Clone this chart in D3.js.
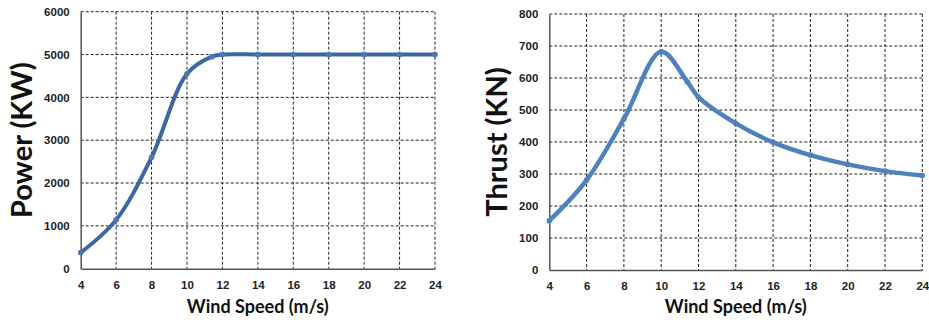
<!DOCTYPE html>
<html>
<head>
<meta charset="utf-8">
<script src="https://cdn.jsdelivr.net/npm/d3@7"></script>
<style>
  body { margin: 0; background: #fff; }
  svg { display: block; font-family: Lato, "Open Sans", sans-serif; }
  .tick text { font-weight: bold; font-size: 11.5px; fill: #222; }
  .grid line { stroke: #222; stroke-dasharray: 3,2; stroke-width: 1; }
  .title { font-weight: bold; fill: #111; }
</style>
</head>
<body>
<div id="chart"></div>
<script>
// wind speeds (m/s) at the data markers
var windSpeed = [4, 6, 8, 10, 11.4, 12, 14, 16, 18, 20, 22, 24];
var power = [375, 1140, 2600, 4550, 4950, 5000, 5000, 5000, 5000, 5000, 5000, 5000];
var thrust = [154, 281, 472, 682, 588, 540, 458, 399, 359, 330, 309, 295];
var xTicks = [4, 6, 8, 10, 12, 14, 16, 18, 20, 22, 24];
var powerTicks = [0, 1000, 2000, 3000, 4000, 5000, 6000];
var thrustTicks = [0, 100, 200, 300, 400, 500, 600, 700, 800];

var svg = d3.select("#chart").append("svg")
    .attr("width", 929)
    .attr("height", 323);

function drawChart(opt) {
    var g = svg.append("g");

    var x = d3.scaleLinear().domain([4, 24]).range([opt.left, opt.right]);
    var y = d3.scaleLinear().domain([0, opt.yMax]).range([opt.bottom, opt.top]);

    // dashed grid
    var grid = g.append("g").attr("class", "grid");
    grid.selectAll(".gx")
        .data(xTicks.slice(1))
        .enter().append("line")
        .attr("x1", function(d){ return x(d); })
        .attr("x2", function(d){ return x(d); })
        .attr("y1", opt.top)
        .attr("y2", opt.bottom);
    grid.selectAll(".gy")
        .data(opt.yTicks.slice(1))
        .enter().append("line")
        .attr("x1", opt.left)
        .attr("x2", opt.right)
        .attr("y1", function(d){ return y(d); })
        .attr("y2", function(d){ return y(d); });

    var xAxis = d3.axisBottom(x).tickValues(xTicks).tickSize(0).tickPadding(12).tickFormat(d3.format("d"));
    var yAxis = d3.axisLeft(y).tickValues(opt.yTicks).tickSize(0).tickPadding(11).tickFormat(d3.format("d"));

    g.append("g")
        .attr("transform", "translate(0," + opt.bottom + ")")
        .call(xAxis)
        .call(function(s){ s.select(".domain").attr("stroke", "#555").attr("stroke-width", 1.5); });

    g.append("g")
        .attr("transform", "translate(" + opt.left + ",0)")
        .call(yAxis)
        .call(function(s){ s.select(".domain").attr("stroke", "#555").attr("stroke-width", 1.5); });

    var pts = windSpeed.map(function(w, i){ return [w, opt.values[i]]; });

    var line = d3.line()
        .x(function(d){ return x(d[0]); })
        .y(function(d){ return y(d[1]); })
        .curve(d3.curveCatmullRom.alpha(0.5));

    g.append("path")
        .datum(pts)
        .attr("fill", "none")
        .attr("stroke", opt.color)
        .attr("stroke-width", opt.lineWidth)
        .attr("stroke-linecap", "round")
        .attr("d", line);

    g.selectAll(".pt")
        .data(pts)
        .enter().append("circle")
        .attr("cx", function(d){ return x(d[0]); })
        .attr("cy", function(d){ return y(d[1]); })
        .attr("r", 2.8)
        .attr("fill", opt.markerColor);

    g.append("text")
        .attr("class", "title")
        .attr("x", (opt.left + opt.right) / 2)
        .attr("y", 313)
        .attr("text-anchor", "middle")
        .style("font-size", "18px")
        .text("Wind Speed (m/s)");

    g.append("text")
        .attr("class", "title")
        .attr("transform", "translate(" + opt.titleX + "," + ((opt.top + opt.bottom) / 2) + ") rotate(-90)")
        .attr("text-anchor", "middle")
        .style("font-size", "29px")
        .text(opt.yTitle);
}

drawChart({
    left: 80.7, right: 435, top: 11.7, bottom: 268.7,
    yMax: 6000, yTicks: powerTicks, values: power,
    color: "#3c67a2", markerColor: "#4a79b8", lineWidth: 4,
    yTitle: "Power (KW)", titleX: 32
});

drawChart({
    left: 549.3, right: 922.3, top: 14, bottom: 270,
    yMax: 800, yTicks: thrustTicks, values: thrust,
    color: "#4f81bd", markerColor: "#4f81bd", lineWidth: 4.5,
    yTitle: "Thrust (KN)", titleX: 507
});
</script>
</body>
</html>
